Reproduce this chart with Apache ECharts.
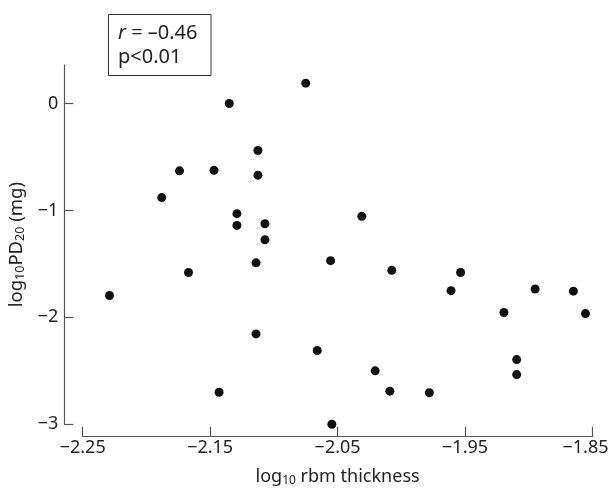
<!DOCTYPE html>
<html>
<head>
<meta charset="utf-8">
<script src="https://cdn.jsdelivr.net/npm/echarts@6/dist/echarts.min.js"></script>
<style>html,body{margin:0;padding:0;background:#fff;}#c{width:611px;height:490px;}</style>
</head>
<body>
<div id="c"></div>
<script>
const xValues = [-2.075, -2.135, -2.1125, -2.174, -2.147, -2.1125, -2.188, -2.129, -2.129, -2.107, -2.107,
  -2.031, -2.114, -2.167, -2.229, -2.114, -2.066, -2.143,
  -2.0555, -2.0075, -1.9535, -1.961, -1.895, -1.865, -1.9195, -1.8555, -1.9095, -1.9095, -2.0205, -2.009, -1.978, -2.0545];
const yValues = [0.19, 0.0, -0.44, -0.63, -0.625, -0.67, -0.88, -1.03, -1.14, -1.125, -1.275,
  -1.055, -1.49, -1.58, -1.795, -2.155, -2.31, -2.70,
  -1.47, -1.56, -1.58, -1.75, -1.735, -1.755, -1.955, -1.965, -2.395, -2.535, -2.50, -2.69, -2.705, -3.0];
const xTicks = [-2.25, -2.15, -2.05, -1.95, -1.85];
const yTicks = [-3, -2, -1, 0];
const statLines = ['r = \u20130.46', 'p<0.01'];

const points = xValues.map((x, i) => [x, yValues[i]]);
const FONT = 'Noto Sans';
const minus = v => String(v).replace('-', '\u2212');

const chart = echarts.init(document.getElementById('c'), null, {renderer: 'canvas'});
chart.setOption({
  animation: false,
  backgroundColor: '#fff',
  grid: {left: 82.7, right: 18.5, top: 65, bottom: 65.7, containLabel: false, outerBoundsMode: 'none'},
  xAxis: {
    type: 'value', min: -2.25, max: -1.85, offset: 12.4,
    splitLine: {show: false},
    axisLine: {show: true, onZero: false, lineStyle: {color: '#555', width: 1.2}},
    axisTick: {show: true, inside: true, length: 10, customValues: xTicks, lineStyle: {color: '#555', width: 1.2}},
    axisLabel: {customValues: xTicks,
      formatter: v => (Math.abs(v - xTicks[xTicks.length - 1]) < 1e-9 ? '{e|' : '{n|') + minus(v.toFixed(2)) + '}',
      rich: {n: {color: '#222', fontFamily: FONT, fontSize: 18}, e: {color: '#222', fontFamily: FONT, fontSize: 18, padding: [0, 14, 0, 0]}},
      color: '#222', fontFamily: FONT, fontSize: 18, margin: 2},
    name: '{a|log}{s|10}{a| rbm thickness}', nameLocation: 'middle', nameGap: 30,
    nameTextStyle: {rich: {a: {fontFamily: FONT, fontSize: 18, color: '#222'}, s: {fontFamily: FONT, fontSize: 12, color: '#222', verticalAlign: 'bottom', padding: [8, 0, 0, 0]}}}
  },
  yAxis: {
    type: 'value', min: -3, max: 0.36, offset: 18.4,
    splitLine: {show: false},
    axisLine: {show: true, onZero: false, lineStyle: {color: '#555', width: 1.2}},
    axisTick: {show: true, inside: true, length: 9, customValues: yTicks, lineStyle: {color: '#555', width: 1.2}},
    axisLabel: {customValues: yTicks, formatter: v => minus(v), color: '#222', fontFamily: FONT, fontSize: 18, margin: 6},
    name: '{a|log}{s|10}{a|PD}{s|20}{a| (mg)}', nameLocation: 'middle', nameGap: 30, nameRotate: 90,
    nameTextStyle: {rich: {a: {fontFamily: FONT, fontSize: 18.5, color: '#222'}, s: {fontFamily: FONT, fontSize: 12.5, color: '#222', verticalAlign: 'bottom', padding: [8, 0, 0, 0]}}}
  },
  series: [{
    type: 'scatter', data: points, symbol: 'circle', symbolSize: 9,
    itemStyle: {color: '#111', opacity: 1}
  }],
  graphic: [
    {type: 'rect', shape: {x: 108.5, y: 14.5, width: 102.5, height: 61}, style: {fill: '#fff', stroke: '#333', lineWidth: 1}},
    {type: 'text', x: 118, y: 33, style: {text: '{i|r}{n|' + statLines[0].slice(1) + '}', verticalAlign: 'middle',
      rich: {i: {fontFamily: FONT, fontStyle: 'italic', fontSize: 20, fill: '#222', verticalAlign: 'middle'}, n: {fontFamily: FONT, fontSize: 20, fill: '#222', verticalAlign: 'middle'}}}},
    {type: 'text', x: 118, y: 57, style: {text: statLines[1], fontFamily: FONT, fontSize: 20, fill: '#222', verticalAlign: 'middle'}}
  ]
});
</script>
</body>
</html>
